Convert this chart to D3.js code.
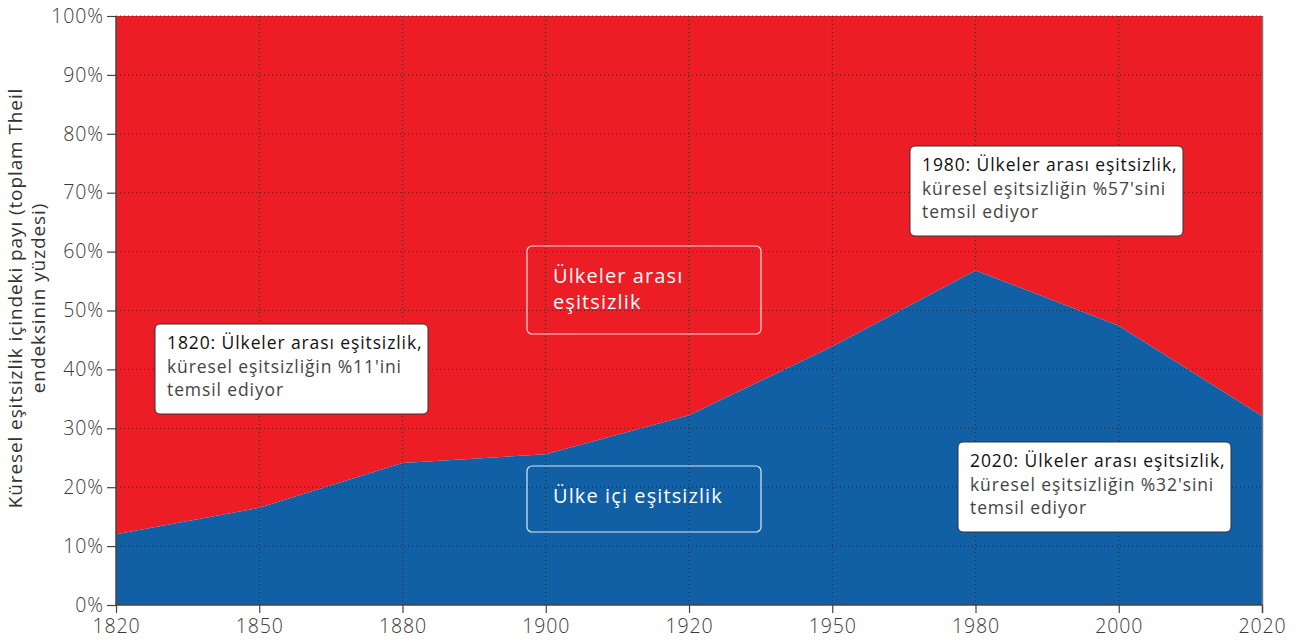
<!DOCTYPE html>
<html><head><meta charset="utf-8">
<script src="https://cdn.jsdelivr.net/npm/d3@7"></script>
<style>
body{margin:0;background:#fff;}
svg text{font-family:"Open Sans","Noto Sans",sans-serif;}
</style></head>
<body><svg id="c" width="1303" height="644"></svg>
<script>
const years = ["1820","1850","1880","1900","1920","1950","1980","2000","2020"];
const withinShare = [12.0, 16.5, 24.1, 25.6, 32.2, 43.9, 56.8, 47.4, 32.1];
const totalShare = [100,100,100,100,100,100,100,100,100];
const yTicks = [0,10,20,30,40,50,60,70,80,90,100];
const yTitle = ["Küresel eşitsizlik içindeki payı (toplam Theil","endeksinin yüzdesi)"];
const notes = [
  {lines:["1820: Ülkeler arası eşitsizlik,","küresel eşitsizliğin %11'ini","temsil ediyor"]},
  {lines:["1980: Ülkeler arası eşitsizlik,","küresel eşitsizliğin %57'sini","temsil ediyor"]},
  {lines:["2020: Ülkeler arası eşitsizlik,","küresel eşitsizliğin %32'sini","temsil ediyor"]}
];
const seriesLabels = [["Ülkeler arası","eşitsizlik"],["Ülke içi eşitsizlik"]];

const svg = d3.select("#c");
const L=116, R=1262, T=16, B=605;
const x = d3.scalePoint().domain(years).range([L,R]);
const y = d3.scaleLinear().domain([0,100]).range([B,T]);
const RED="#ED1D25", BLUE="#1160A6";

const data = years.map((yr,i)=>({yr, v:withinShare[i], t:totalShare[i]}));
svg.append("path").datum(data).attr("fill",RED)
  .attr("d", d3.area().x(d=>x(d.yr)).y0(d=>y(d.v)).y1(d=>y(d.t)));
svg.append("path").datum(data).attr("fill",BLUE)
  .attr("d", d3.area().x(d=>x(d.yr)).y0(y(0)).y1(d=>y(d.v)));

// grid
const g = svg.append("g");
g.selectAll(".hg").data(yTicks.filter(t=>t>0)).join("line")
  .attr("x1",L).attr("x2",R).attr("y1",d=>y(d)).attr("y2",d=>y(d))
  .attr("stroke","#222").attr("stroke-width",1).attr("stroke-dasharray","1,3").attr("opacity",0.8);
g.selectAll(".vg").data(years.slice(1,-1)).join("line")
  .attr("x1",d=>x(d)).attr("x2",d=>x(d)).attr("y1",T).attr("y2",B)
  .attr("stroke","#222").attr("stroke-width",1).attr("stroke-dasharray","1,3").attr("opacity",0.8);

// right edge
svg.append("line").attr("x1",R+0.5).attr("x2",R+0.5).attr("y1",T).attr("y2",B+8)
  .attr("stroke","#777").attr("stroke-width",1.5);

// axes
const yAxis = d3.axisLeft(y).tickValues(yTicks).tickFormat(d=>d+"%").tickSize(9).tickPadding(3);
const ya = svg.append("g").attr("transform",`translate(${L},0)`).call(yAxis);
const xAxis = d3.axisBottom(x).tickSize(8).tickPadding(6);
const xa = svg.append("g").attr("transform",`translate(0,${B})`).call(xAxis);
[ya,xa].forEach(a=>{
  a.selectAll("path.domain").attr("stroke","#444").attr("stroke-width",1.5);
  a.selectAll(".tick line").attr("stroke","#444").attr("stroke-width",1.2);
  a.selectAll("text").attr("fill","#3a3a3a").style("font-size","19.5px").style("font-weight",300)
    .style("letter-spacing","0.9px")
    .style("font-family","'Open Sans','Noto Sans',sans-serif");
});
xa.select("path.domain").attr("d",`M${L},0H${R}`);
ya.select("path.domain").attr("d",`M0,${T}V${B}`);

// y title
const yt = svg.append("text").attr("transform","translate(22,298) rotate(-90)")
  .attr("text-anchor","middle").attr("fill","#333").style("font-size","19px").style("letter-spacing","0.9px");
yTitle.forEach((t,i)=>yt.append("tspan").attr("x",0).attr("dy",i?23:0).text(t));

// series label boxes
function labelBox(x0,y0,w,h,lines,ty){
  svg.append("rect").attr("x",x0).attr("y",y0).attr("width",w).attr("height",h)
    .attr("rx",5).attr("fill","none").attr("stroke","#fff").attr("stroke-opacity",0.85).attr("stroke-width",1.2);
  lines.forEach((l,i)=>svg.append("text").attr("x",x0+26).attr("y",ty+i*26)
    .attr("fill","#fff").style("font-size","20px").style("letter-spacing","1.1px").text(l));
}
labelBox(527,246,234,88,seriesLabels[0],283);
labelBox(527,466,234,66,seriesLabels[1],503);

// notes
const notePos = [[155,324],[910,146],[958,442]];
notes.forEach((n,k)=>{
  const [x0,y0]=notePos[k];
  svg.append("rect").attr("x",x0).attr("y",y0).attr("width",273).attr("height",90)
    .attr("rx",5).attr("fill","#fff").attr("stroke","#333").attr("stroke-width",1);
  n.lines.forEach((l,i)=>svg.append("text").attr("x",x0+12).attr("y",y0+25+i*23.5)
    .attr("fill",i?"#444":"#111").style("font-size","17.5px").style("font-weight",i?400:500)
    .style("letter-spacing","0.9px").text(l));
});
</script></body></html>
